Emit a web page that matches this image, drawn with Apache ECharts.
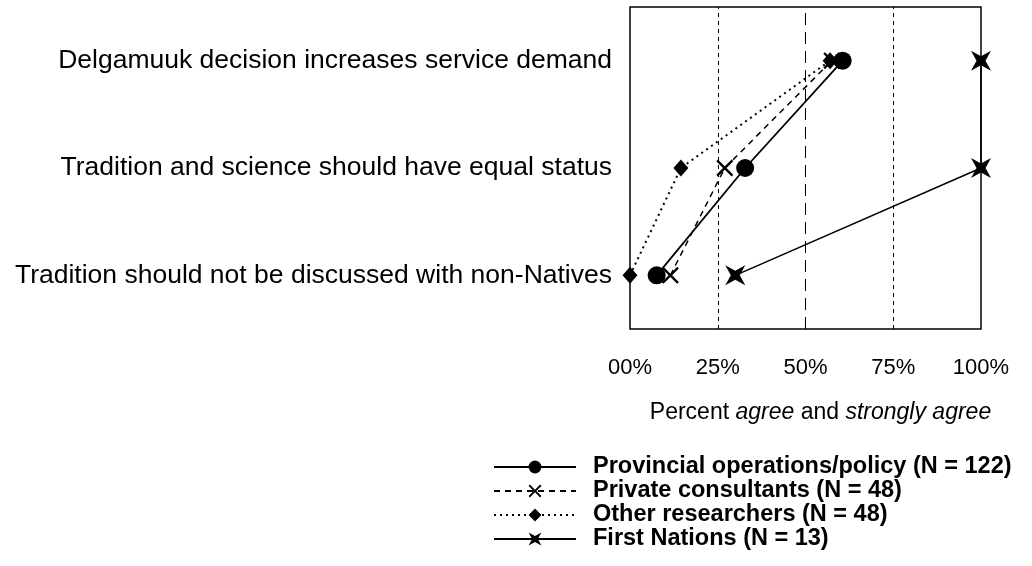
<!DOCTYPE html>
<html>
<head>
<meta charset="utf-8">
<script src="https://cdn.jsdelivr.net/npm/echarts@6/dist/echarts.min.js"></script>
<style>
  html, body { margin: 0; padding: 0; background: #fff; }
  #main { width: 1032px; height: 566px; }
</style>
</head>
<body>
<div id="main"></div>
<script>
// statements, bottom row first (category axis runs upward)
var statements = [
    'Tradition should not be discussed with non-Natives',
    'Tradition and science should have equal status',
    'Delgamuuk decision increases service demand'
];
var xTicks = [0, 25, 50, 75, 100];

var provincial = [7.6, 32.8, 60.6];
var privateCons = [11.5, 27, 57.5];
var otherRes = [0, 14.5, 57];
var firstNations = [30, 100, 100];

var crossPath = 'path://M-5,-6 L0,-1.2 L5,-6 L6.2,-4.8 L1.3,0 L6.2,4.8 L5,6 L0,1.2 L-5,6 L-6.2,4.8 L-1.3,0 L-6.2,-4.8 Z';
var starPath = 'path://M-10,-10 L0,-4.5 L10,-10 L4.5,0 L10,10 L0,4.5 L-10,10 L-4.5,0 Z';

var font = 'Liberation Sans, Arial, sans-serif';

var chart = echarts.init(document.getElementById('main'));

var option = {
    backgroundColor: '#fff',
    animation: false,
    textStyle: { fontFamily: font, color: '#000' },
    grid: {
        left: 630, right: 51, top: 7, bottom: 237,
        show: true, borderColor: '#000', borderWidth: 1.5
    },
    legend: {
        orient: 'vertical',
        left: 493, top: 455,
        padding: 0,
        height: 110,
        itemWidth: 82, itemHeight: 16, itemGap: 0,
        textStyle: { fontFamily: font, fontSize: 23.5, fontWeight: 'bold', color: '#000', padding: [0, 0, 0, 12] },
        data: ['Provincial operations/policy (N = 122)', 'Private consultants (N = 48)',
               'Other researchers (N = 48)', 'First Nations (N = 13)']
    },
    xAxis: {
        type: 'value',
        min: 0, max: 100, interval: 25,
        axisLine: { show: false },
        axisTick: { show: false },
        splitLine: { show: false },
        axisLabel: {
            margin: 28, fontSize: 22, color: '#000', fontFamily: font,
            formatter: function (v) { return (v === 0 ? '00' : v) + '%'; }
        },
        name: 'Percent {i|agree} and {i|strongly agree}',
        nameLocation: 'middle',
        nameGap: 72,
        nameTextStyle: {
            fontSize: 23, color: '#000', fontFamily: font, padding: [0, 0, 0, 30],
            rich: { i: { fontSize: 23, fontStyle: 'italic', color: '#000', fontFamily: font } }
        }
    },
    yAxis: {
        type: 'category',
        data: statements,
        axisLine: { show: false },
        axisTick: { show: false },
        axisLabel: { margin: 18, fontSize: 26.5, color: '#000', fontFamily: font }
    },
    series: [
        {
            name: 'Provincial operations/policy (N = 122)', type: 'line', data: provincial,
            symbol: 'circle', symbolSize: 18,
            itemStyle: { color: '#000' },
            lineStyle: { color: '#000', width: 1.8 },
            z: 5,
            markLine: {
                silent: true, symbol: 'none', label: { show: false },
                data: [
                    { xAxis: xTicks[1], lineStyle: { color: '#000', width: 1, type: [4, 4] } },
                    { xAxis: xTicks[2], lineStyle: { color: '#000', width: 1, type: [12, 7] } },
                    { xAxis: xTicks[3], lineStyle: { color: '#000', width: 1, type: [4, 4] } }
                ]
            }
        },
        {
            name: 'Private consultants (N = 48)', type: 'line', data: privateCons,
            symbol: crossPath, symbolSize: 17,
            itemStyle: { color: '#000' },
            lineStyle: { color: '#000', width: 1.5, type: [6, 5] },
            z: 4
        },
        {
            name: 'Other researchers (N = 48)', type: 'line', data: otherRes,
            symbol: 'diamond', symbolSize: [15, 17],
            itemStyle: { color: '#000' },
            lineStyle: { color: '#000', width: 2, type: [2, 4] },
            z: 3
        },
        {
            name: 'First Nations (N = 13)', type: 'line', data: firstNations,
            symbol: starPath, symbolSize: 20,
            itemStyle: { color: '#000' },
            lineStyle: { color: '#000', width: 1.5 },
            z: 6
        }
    ]
};

chart.setOption(option);
</script>
</body>
</html>
